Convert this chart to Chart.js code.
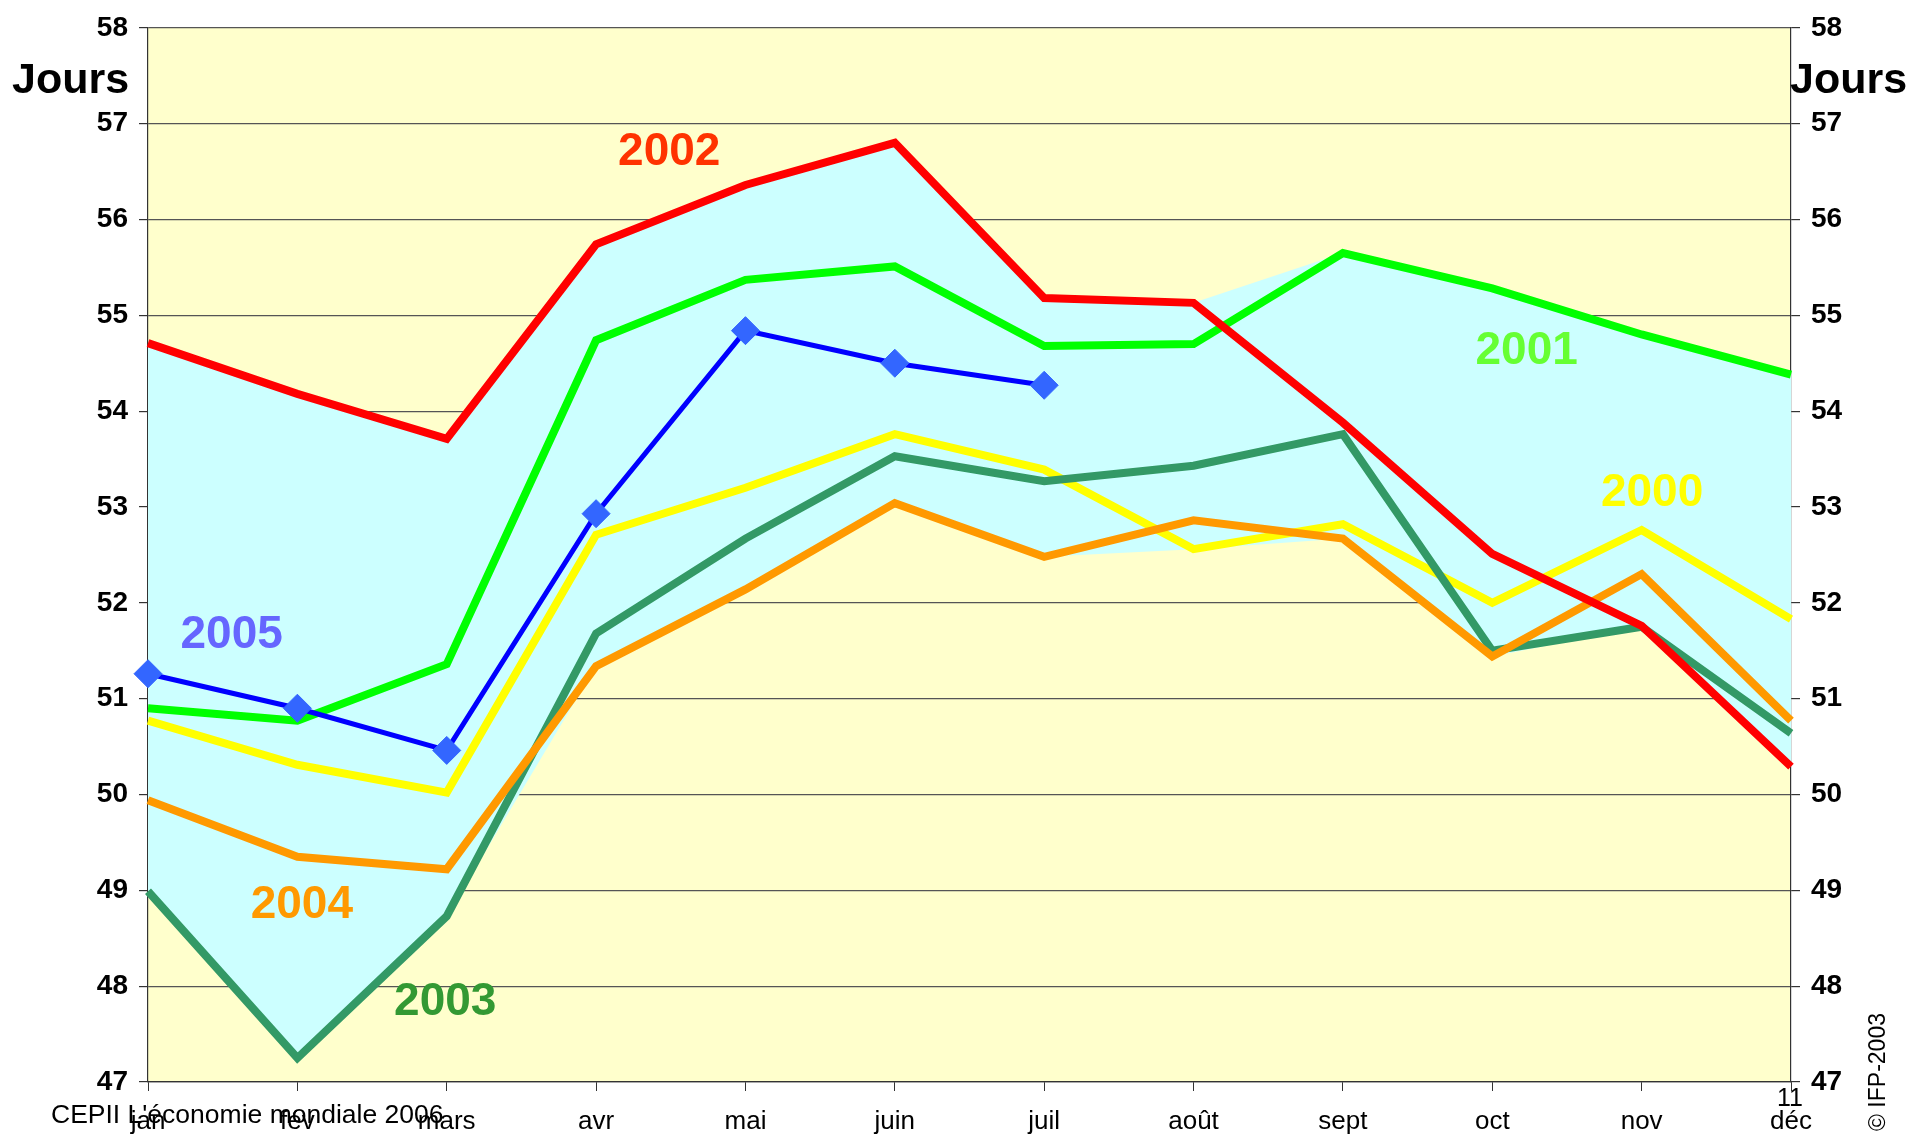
<!DOCTYPE html>
<html lang="fr">
<head>
<meta charset="utf-8">
<title>Jours</title>
<script src="https://cdn.jsdelivr.net/npm/chart.js@4.4.1/dist/chart.umd.min.js"></script>
<style>
  html, body { margin: 0; padding: 0; background: #fff; }
  #chart { display: block; }
</style>
</head>
<body>
<canvas id="chart" width="1912" height="1134"></canvas>
<script>
/* Délai moyen en jours — 2000 à 2005 */

var MONTHS = ['jan', 'fév', 'mars', 'avr', 'mai', 'juin', 'juil', 'août', 'sept', 'oct', 'nov', 'déc'];

var Y2000 = [50.77, 50.31, 50.02, 52.71, 53.20, 53.76, 53.39, 52.56, 52.82, 52.00, 52.76, 51.83];
var Y2001 = [50.90, 50.77, 51.36, 54.74, 55.37, 55.51, 54.68, 54.70, 55.65, 55.28, 54.80, 54.38];
var Y2002 = [54.71, 54.18, 53.71, 55.74, 56.36, 56.80, 55.18, 55.13, 53.88, 52.51, 51.76, 50.29];
var Y2003 = [48.99, 47.25, 48.73, 51.68, 52.67, 53.53, 53.27, 53.43, 53.76, 51.50, 51.75, 50.64];
var Y2004 = [49.94, 49.35, 49.22, 51.34, 52.14, 53.04, 52.48, 52.86, 52.67, 51.44, 52.30, 50.77];
var Y2005 = [51.26, 50.90, 50.46, 52.93, 54.84, 54.50, 54.27];

var Y_TICKS = { min: 47, max: 58, step: 1 };

/* year labels: [text, month index, value, colour] */
var YEAR_LABELS = [
  ['2002', 3.49, 56.70, '#FF3300'],
  ['2001', 9.23, 54.62, '#66FF33'],
  ['2000', 10.07, 53.14, '#FFFF00'],
  ['2005', 0.56, 51.66, '#6666FF'],
  ['2004', 1.03, 48.84, '#FF9900'],
  ['2003', 1.99, 47.83, '#339933']
];

(function () {
  'use strict';

  var SANS = "'Liberation Sans', Arial, sans-serif";

  // envelope of the years 2000-2004 (cyan band)
  function envelope(fn) {
    return MONTHS.map(function (m, i) {
      return fn(Y2000[i], Y2001[i], Y2002[i], Y2003[i], Y2004[i]);
    });
  }

  function line(label, data, color, width) {
    return {
      label: label,
      data: data,
      borderColor: color,
      backgroundColor: color,
      borderWidth: width,
      pointRadius: 0,
      fill: false,
      tension: 0
    };
  }

  var plotBackground = {
    id: 'plotBackground',
    beforeDraw: function (chart) {
      var a = chart.chartArea, ctx = chart.ctx;
      ctx.save();
      ctx.fillStyle = '#FFFFCC';
      ctx.fillRect(a.left, a.top, a.right - a.left, a.bottom - a.top);
      ctx.restore();
    }
  };

  var annotations = {
    id: 'annotations',
    afterDraw: function (chart) {
      var ctx = chart.ctx, xs = chart.scales.x, ys = chart.scales.y;
      ctx.save();
      ctx.textAlign = 'center';
      ctx.textBaseline = 'middle';
      ctx.font = 'bold 46px ' + SANS;
      YEAR_LABELS.forEach(function (l) {
        ctx.fillStyle = l[3];
        ctx.fillText(l[0], xs.getPixelForDecimal(l[1] / (MONTHS.length - 1)), ys.getPixelForValue(l[2]));
      });

      ctx.fillStyle = '#000';
      ctx.textAlign = 'left';
      ctx.font = 'bold 43px ' + SANS;
      ctx.fillText('Jours', 12, 81);
      ctx.fillText('Jours', 1790, 81);

      ctx.font = '26.5px ' + SANS;
      ctx.fillText('CEPII L\'économie mondiale 2006', 51, 1116);

      ctx.textAlign = 'center';
      ctx.font = '25px ' + SANS;
      ctx.fillText('11', 1790, 1099);

      ctx.translate(1879, 1072);
      ctx.rotate(-Math.PI / 2);
      ctx.font = '23px ' + SANS;
      ctx.fillText('© IFP-2003', 0, 0);
      ctx.restore();
    }
  };

  var blue = line('2005', Y2005, '#0000FF', 5);
  blue.pointStyle = 'rectRot';
  blue.pointRadius = 14;
  blue.pointBackgroundColor = '#3366FF';
  blue.pointBorderColor = '#3366FF';
  blue.pointBorderWidth = 1;
  blue.clip = false;

  var upper = line('haut', envelope(Math.max), 'rgba(0,0,0,0)', 0);
  var lower = line('bas', envelope(Math.min), 'rgba(0,0,0,0)', 0);
  lower.fill = '-1';
  lower.backgroundColor = '#CCFFFF';

  var yAxis = function (position, width, grid) {
    return {
      type: 'linear',
      position: position,
      min: Y_TICKS.min,
      max: Y_TICKS.max,
      afterFit: function (scale) { scale.width = width; },
      border: { display: true, color: '#333', width: 1.2 },
      grid: { drawOnChartArea: grid, color: '#555', lineWidth: 1.2, tickLength: 9, tickColor: '#333' },
      ticks: {
        stepSize: Y_TICKS.step,
        padding: 11,
        color: '#000',
        font: { family: SANS, size: 28, weight: 'bold' }
      }
    };
  };

  new Chart(document.getElementById('chart'), {
    type: 'line',
    data: {
      labels: MONTHS,
      datasets: [
        blue,
        line('2002', Y2002, '#FF0000', 8),
        line('2004', Y2004, '#FF9900', 8),
        line('2003', Y2003, '#339966', 8),
        line('2001', Y2001, '#00FF00', 8),
        line('2000', Y2000, '#FFFF00', 8),
        upper,
        lower
      ]
    },
    options: {
      responsive: false,
      animation: false,
      devicePixelRatio: 1,
      layout: { padding: { top: 24, left: 0, right: 0, bottom: 0 } },
      plugins: {
        legend: { display: false },
        tooltip: { enabled: false },
        filler: { propagate: false }
      },
      scales: {
        x: {
          offset: false,
          afterFit: function (scale) { scale.height = 52; },
          border: { display: true, color: '#333', width: 1.2 },
          grid: { drawOnChartArea: false, tickLength: 9, tickColor: '#333' },
          ticks: {
            autoSkip: false,
            maxRotation: 0,
            padding: 15,
            color: '#000',
            font: { family: SANS, size: 26 }
          }
        },
        y: yAxis('left', 148, true),
        y2: yAxis('right', 121, false)
      }
    },
    plugins: [plotBackground, annotations]
  });
})();
</script>
</body>
</html>
